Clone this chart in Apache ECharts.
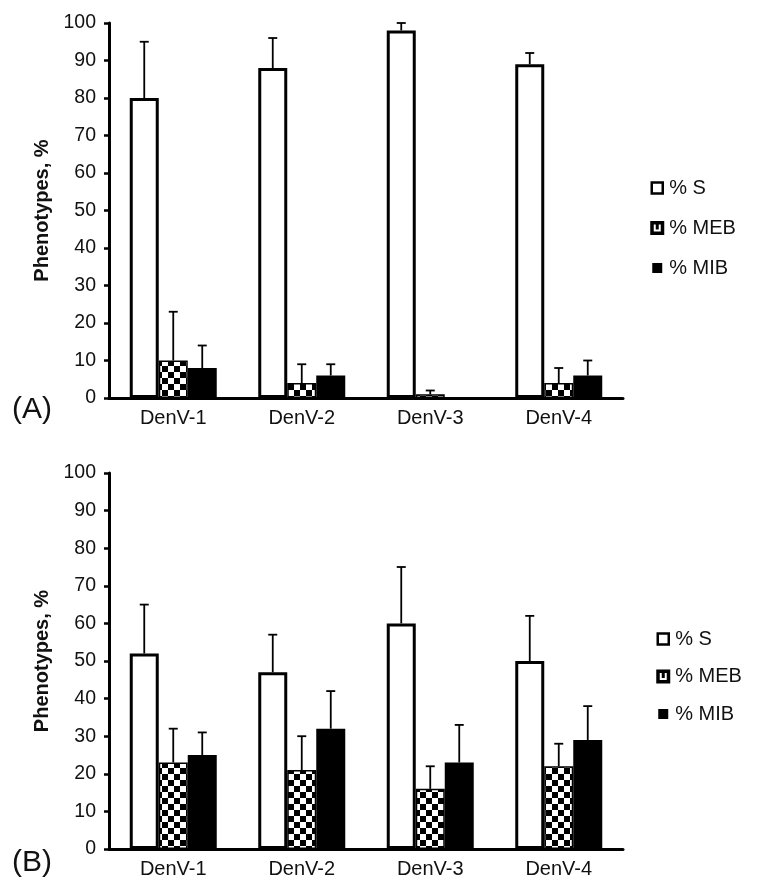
<!DOCTYPE html>
<html>
<head>
<meta charset="utf-8">
<script src="https://cdn.jsdelivr.net/npm/echarts@6/dist/echarts.min.js"></script>
<style>
html,body{margin:0;padding:0;background:#fff;}
#chart{width:758px;height:894px;}
</style>
</head>
<body>
<div id="chart"></div>
<script>
// ---- data ----
const categories = ['DenV-1', 'DenV-2', 'DenV-3', 'DenV-4'];
const seriesNames = ['% S', '% MEB', '% MIB'];
const panelLabels = ['(A)', '(B)'];
const yAxisName = 'Phenotypes, %';
const yMin = 0, yMax = 100, yStep = 10;

// Panel A
const aS = [80, 88, 98, 89];
const aSErr = [15, 8, 2, 3];
const aMEB = [10, 4, 1, 4];
const aMEBErr = [13, 5, 1, 4];
const aMIB = [8, 6, 0, 6];
const aMIBErr = [6, 3, null, 4];

// Panel B
const bS = [52, 47, 60, 50];
const bSErr = [13, 10, 15, 12];
const bMEB = [23, 21, 16, 22];
const bMEBErr = [9, 9, 6, 6];
const bMIB = [25, 32, 23, 29];
const bMIBErr = [6, 10, 10, 9];

// ---- styling ----
const FONT = '"Liberation Sans", Arial, Helvetica, sans-serif';
const BAR_W = 29;

function checker() {
  const c = document.createElement('canvas');
  c.width = 12; c.height = 12;
  const g = c.getContext('2d');
  g.fillStyle = '#fff'; g.fillRect(0, 0, 12, 12);
  g.fillStyle = '#000';
  g.fillRect(0, 0, 6, 6);
  g.fillRect(6, 6, 6, 6);
  return c;
}
const checkerImg = checker();

const styles = [
  { color: '#fff', borderColor: '#000', borderWidth: 3 },
  { color: { image: checkerImg, repeat: 'repeat' }, borderColor: '#000', borderWidth: 1.5 },
  { color: '#000', borderColor: '#000', borderWidth: 0 }
];

const grids = [
  { left: 109, width: 514, top: 23, height: 375 },
  { left: 109, width: 514, top: 473, height: 376 }
];

const panels = [
  { vals: [aS, aMEB, aMIB], errs: [aSErr, aMEBErr, aMIBErr] },
  { vals: [bS, bMEB, bMIB], errs: [bSErr, bMEBErr, bMIBErr] }
];

const xAxes = grids.map((g, i) => ({
  type: 'category', gridIndex: i, data: categories,
  axisLine: { lineStyle: { color: '#000', width: 3 } },
  axisTick: { show: false },
  axisLabel: { color: '#111', fontSize: 20, fontFamily: FONT, margin: 10 }
}));

const yAxes = grids.map((g, i) => ({
  type: 'value', gridIndex: i, min: yMin, max: yMax, interval: yStep,
  name: yAxisName, nameLocation: 'middle', nameGap: 57,
  nameTextStyle: { color: '#111', fontSize: 20, fontWeight: 'bold', fontFamily: FONT },
  axisLine: { show: true, lineStyle: { color: '#000', width: 3 } },
  axisTick: { show: true, inside: false, length: 5, lineStyle: { color: '#000', width: 2.5 } },
  axisLabel: { color: '#111', fontSize: 19.5, fontFamily: FONT, margin: 13 },
  splitLine: { show: false }
}));

function errRender(params, api) {
  const cat = api.value(0), val = api.value(1), tip = api.value(2), sIdx = api.value(3);
  if (tip == null || isNaN(tip)) return null;
  const base = api.coord([cat, val]);
  const top = api.coord([cat, tip]);
  const x = base[0] + (sIdx - 1) * BAR_W;
  const cap = 4.5;
  const st = { stroke: '#000', lineWidth: 1.8 };
  return {
    type: 'group',
    children: [
      { type: 'line', shape: { x1: x, y1: base[1], x2: x, y2: top[1] }, style: st },
      { type: 'line', shape: { x1: x - cap, y1: top[1], x2: x + cap, y2: top[1] }, style: st }
    ]
  };
}

const series = [];
panels.forEach((p, pi) => {
  p.vals.forEach((vals, si) => {
    series.push({
      type: 'bar', name: seriesNames[si], xAxisIndex: pi, yAxisIndex: pi,
      data: vals, barWidth: BAR_W, barGap: '0%',
      itemStyle: styles[si], emphasis: { disabled: true }
    });
  });
  const errData = [];
  p.vals.forEach((vals, si) => {
    vals.forEach((v, ci) => {
      const e = p.errs[si][ci];
      if (e != null) errData.push([ci, v, v + e, si]);
    });
  });
  series.push({
    type: 'custom', xAxisIndex: pi, yAxisIndex: pi, renderItem: errRender,
    data: errData, encode: { x: 0, y: [1, 2] }, z: 5, silent: true
  });
});

const pad = 'M0,0 M14,14 ';
const legendData = [
  { name: seriesNames[0], icon: 'path://' + pad + 'M1.5,1.5H12.5V12.5H1.5Z',
    itemStyle: { color: '#fff', borderColor: '#000', borderWidth: 2.5 } },
  { name: seriesNames[1], icon: 'path://M0,0H14V14H0Z M3.5,3.5V10.5H10.5V3.5H8.5V8.5H5.5V3.5Z',
    itemStyle: { color: '#000', borderWidth: 0 } },
  { name: seriesNames[2], icon: 'path://' + pad + 'M2,2H12V12H2Z',
    itemStyle: { color: '#000', borderWidth: 0 } }
];

const legends = [
  { left: 649, top: 178, itemGap: 20 },
  { left: 655, top: 629, itemGap: 17.5 }
].map(l => ({
  orient: 'vertical', left: l.left, top: l.top, itemGap: l.itemGap, padding: 0,
  itemWidth: 14, itemHeight: 14, selectedMode: false,
  data: legendData,
  textStyle: { color: '#111', fontSize: 20, fontFamily: FONT }
}));

const titles = [
  { text: panelLabels[0], left: 12, top: 395 },
  { text: panelLabels[1], left: 12, top: 848 }
].map(t => ({
  text: t.text, left: t.left, top: t.top, padding: 0,
  textStyle: { color: '#111', fontSize: 30, fontWeight: 'normal', fontFamily: FONT }
}));

const chart = echarts.init(document.getElementById('chart'), null, { renderer: 'canvas' });
chart.setOption({
  backgroundColor: '#fff',
  animation: false,
  title: titles,
  legend: legends,
  grid: grids,
  xAxis: xAxes,
  yAxis: yAxes,
  series: series
});
</script>
</body>
</html>
